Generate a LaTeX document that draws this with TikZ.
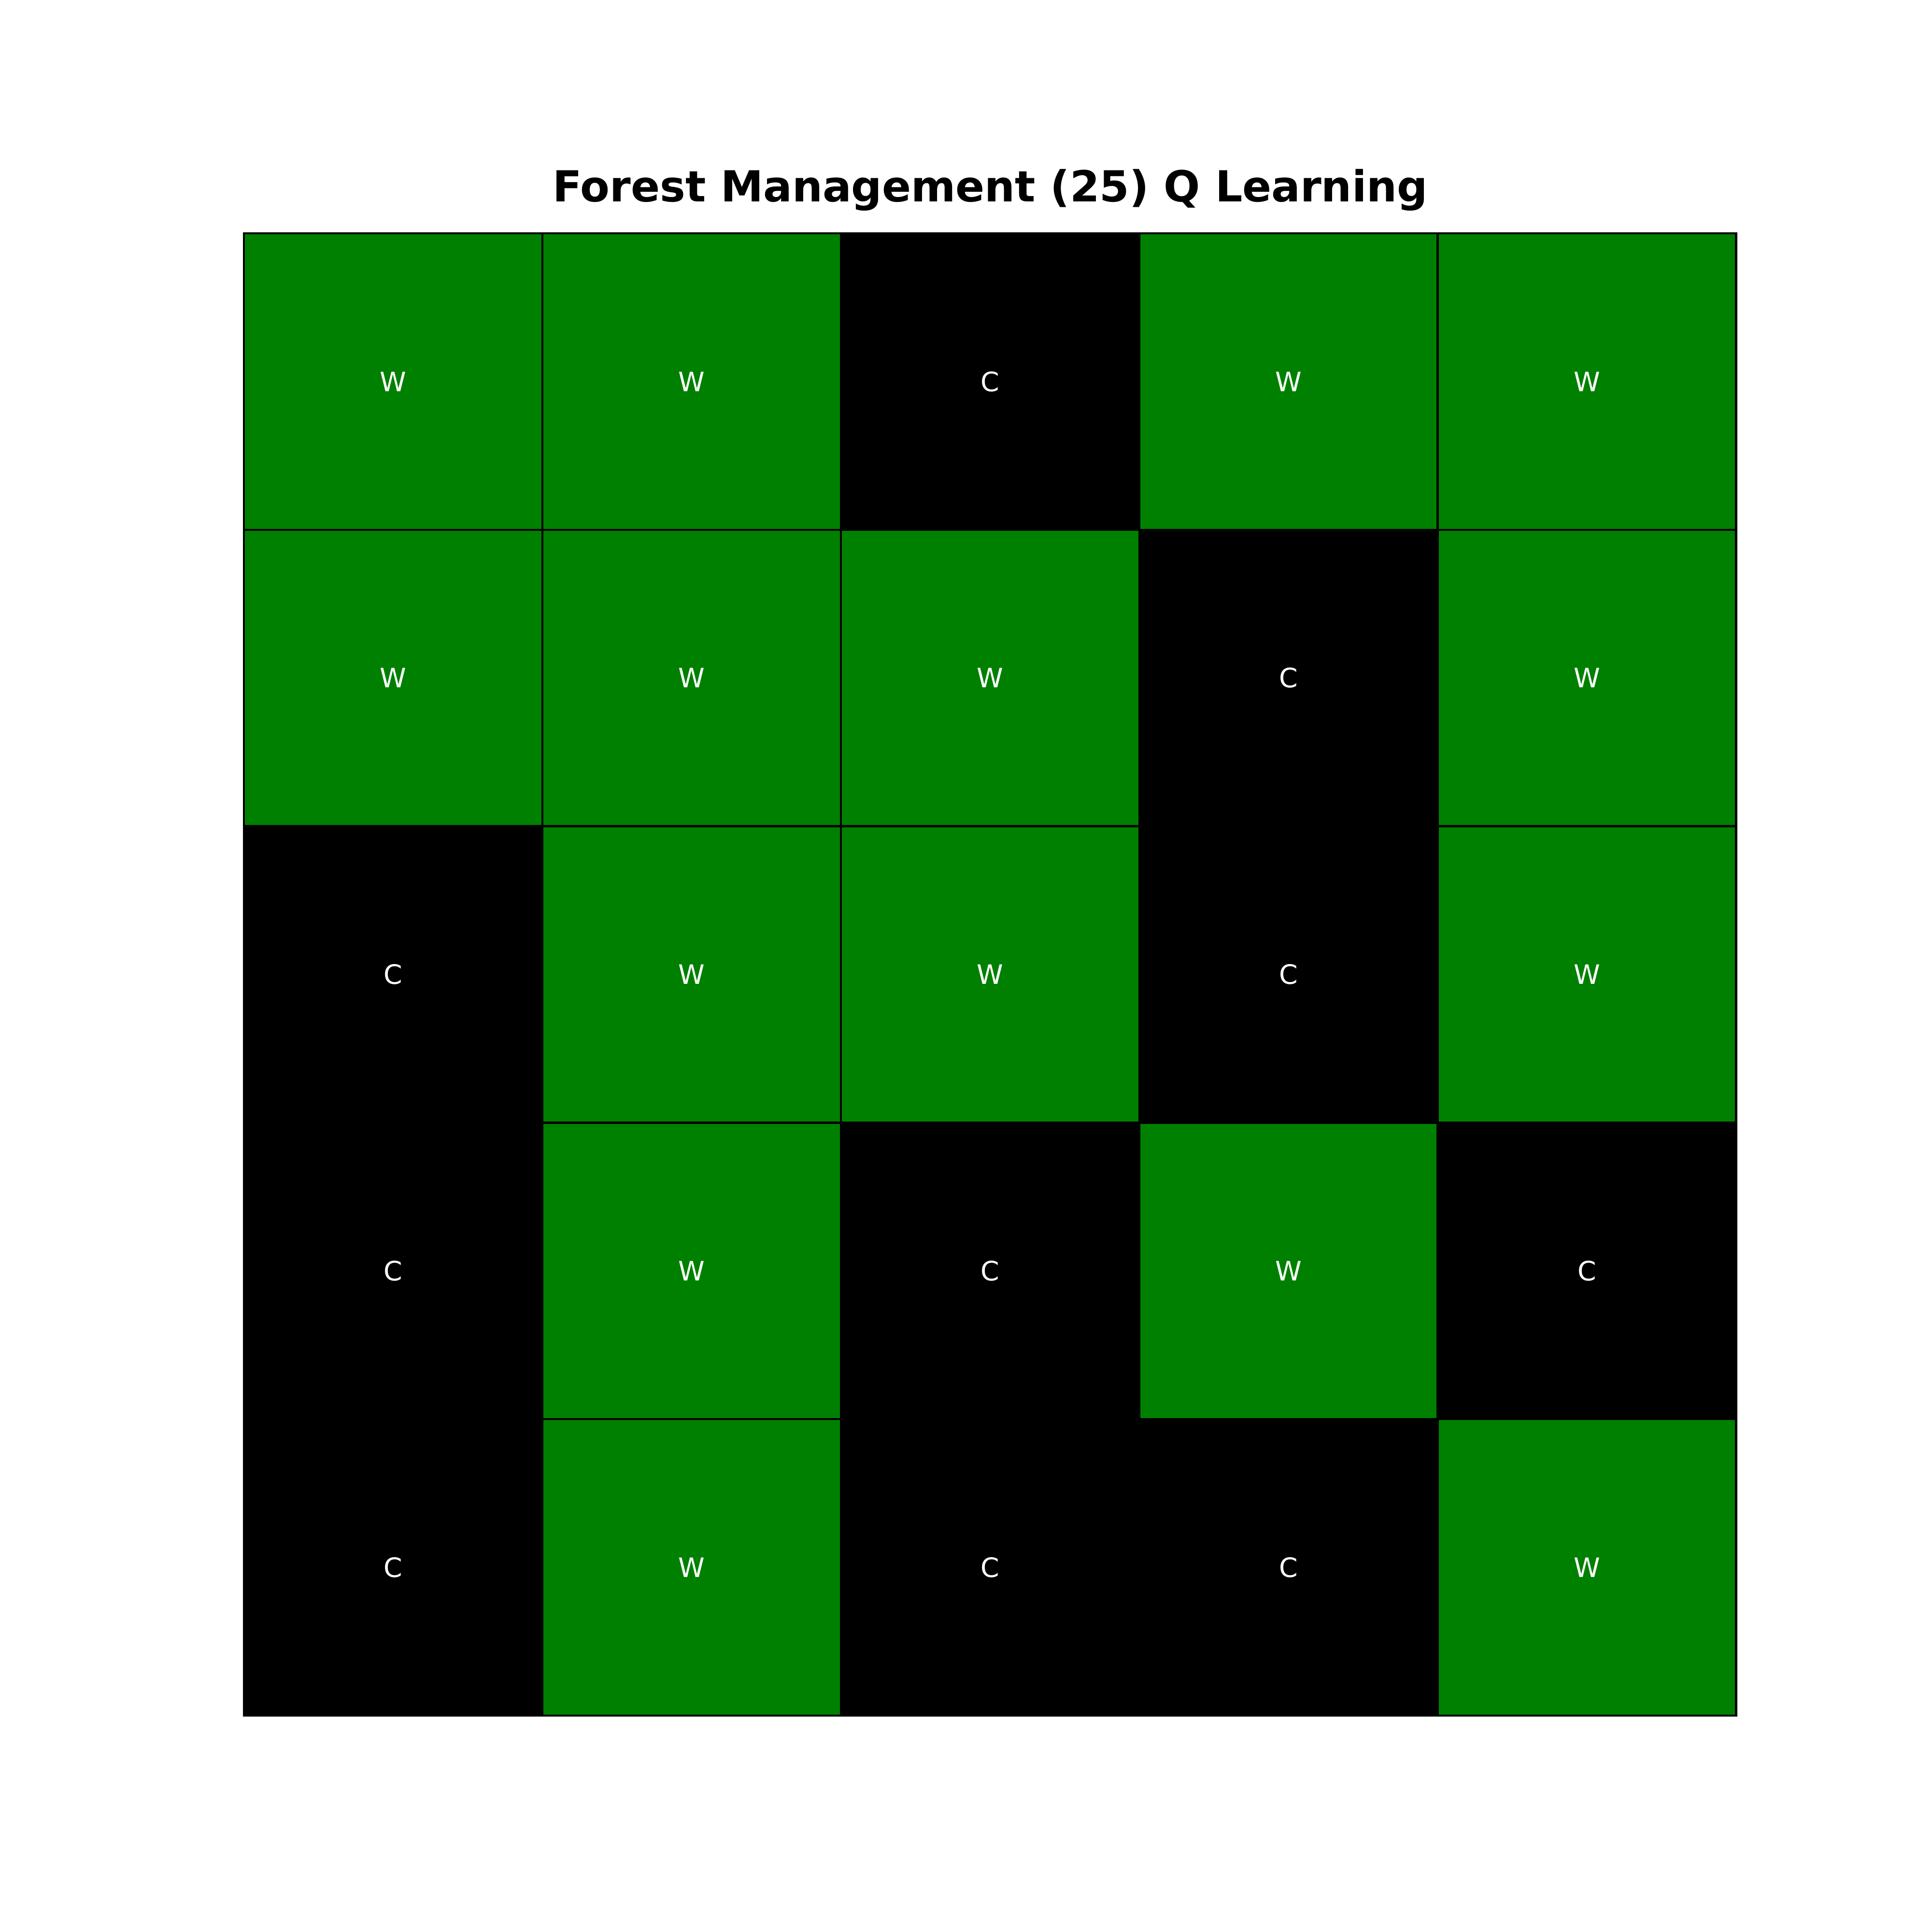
\documentclass[tikz,border=0pt]{standalone}
\usepackage{fontspec}
\setmainfont{DejaVu Sans}
\usetikzlibrary{positioning}
\definecolor{ForestGreen}{HTML}{008000}
\definecolor{ForestCut}{HTML}{000000}
\tikzset{
  forest cell/.style={
    draw=black,
    line width=0.8pt,
    minimum width=1.5446in,
    minimum height=1.5344in,
    inner sep=0pt,
    outer sep=0pt,
    text=white,
    font=\fontsize{10}{12}\selectfont
  },
  forest cellW/.style={forest cell,fill=ForestGreen},
  forest cellC/.style={forest cell,fill=ForestCut},
  forest title/.style={
    anchor=base,
    inner sep=0pt,
    font=\bfseries\fontsize{16}{19}\selectfont
  }
}

\begin{document}
\begin{tikzpicture}[x=1in,y=1in]
  \fill[white] (0,0) rectangle (10,10);
  \useasboundingbox (0,0) rectangle (10,10);

  \node[forest title] (title) at (5.126,8.957) {Forest Management (25) Q Learning};

  % policy grid, row by row from the top
  \foreach \row [count=\r] in {{W,W,C,W,W},{W,W,W,C,W},{C,W,W,C,W},{C,W,C,W,C},{C,W,C,C,W}} {
    \foreach \s [count=\c] in \row {
      \node[forest cell\s] (cell-\r-\c) at ({1.263+(\c-0.5)*1.5446},{8.788-(\r-0.5)*1.5344+0.004}) {\s};
    }
  }
\end{tikzpicture}
\end{document}
